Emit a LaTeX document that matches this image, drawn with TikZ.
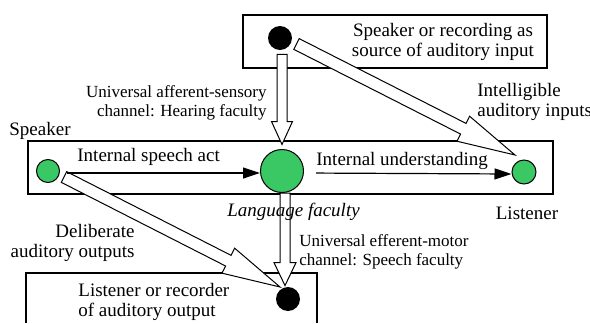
\documentclass[tikz,border=0pt]{standalone}
\usepackage{fontspec}
\setmainfont{Liberation Serif}[Ligatures=TeX]
\usetikzlibrary{arrows.meta,calc}
\definecolor{facgreen}{RGB}{58,200,100}
\tikzset{
  >={Triangle[length=8.5pt,width=5.5pt]},
  frame/.style={draw, line width=0.65pt},
  lbl/.style={inner sep=0pt, font=\rmfamily\fontsize{9.5}{10}\selectfont},
  small/.style={inner sep=0pt, font=\rmfamily\fontsize{8.5}{9.5}\selectfont},
  spot/.style={circle, draw, line width=0.5pt, fill=facgreen, inner sep=0pt, minimum size=#1},
  sink/.style={circle, fill=black, inner sep=0pt, minimum size=12pt},
  fat/.style={draw, line width=0.5pt, fill=white, line join=miter},
}
% hollow arrow: start, tip, head length, head half width, shaft half width
\newcommand\fatarrow[5]{%
  \coordinate (fa-base) at ($(#2)!#3!(#1)$);
  \draw[fat] ($(#1)!#5!90:(#2)$) -- ($(fa-base)!#5!90:(#2)$) -- ($(fa-base)!#4!90:(#2)$)
    -- (#2) -- ($(fa-base)!#4!-90:(#2)$) -- ($(fa-base)!#5!-90:(#2)$) -- ($(#1)!#5!-90:(#2)$) -- cycle;
}
\begin{document}
\begin{tikzpicture}[x=0.5pt, y=0.5pt]
  \useasboundingbox (0,0) rectangle (590,323);
  % boxes
  \draw[frame] (243,255) rectangle (547,308);
  \draw[frame] (28,129) rectangle (553,182);
  \draw[frame] (26,0) |- (317,50) -- (317,0);
  % sources, faculty, sinks
  \node[sink] (src) at (280,285) {};
  \node[spot=11.5pt] (spk) at (48,152) {};
  \node[spot=21.5pt] (lang) at (282,152) {};
  \node[spot=12pt] (lis) at (524,151) {};
  \node[sink] (rec) at (288,24) {};
  % channels
  \coordinate (a1s) at ([shift={(1pt,-2pt)}]src.south);
  \coordinate (a1e) at ([yshift=2.25pt]lang.north);
  \coordinate (a2s) at ([shift={(8.25pt,-3pt)}]src.center);
  \coordinate (a2e) at ([shift={(-4.5pt,8.5pt)}]lis.center);
  \coordinate (a3s) at ([shift={(8pt,-3pt)}]spk.center);
  \coordinate (a3e) at ([shift={(-4pt,6pt)}]rec.center);
  \coordinate (a4s) at ([xshift=1.5pt]lang.south);
  \coordinate (a4e) at ([shift={(-1.5pt,0.5pt)}]rec.north);
  \fatarrow{a1s}{a1e}{11.5pt}{5.25pt}{2.5pt}
  \fatarrow{a2s}{a2e}{29pt}{7pt}{3pt}
  \fatarrow{a3s}{a3e}{29pt}{7pt}{3pt}
  \fatarrow{a4s}{a4e}{11.5pt}{5.5pt}{2.5pt}
  \draw[->, line width=0.6pt, shorten <=3.5pt] ([yshift=-1pt]spk.east) -- ([yshift=-1pt]lang.west);
  \draw[->, line width=0.6pt, shorten <=6pt] ([yshift=-1pt]lang.east) -- ([yshift=-1pt]lis.west);
  % labels
  \node[lbl, align=center] (srctxt) at (443,281) {Speaker or recording as\\source of auditory input};
  \node[small, align=right, anchor=east] (hear) at (267,220.5) {Universal afferent-sensory\\channel: Hearing faculty};
  \node[lbl, align=left, anchor=west] (intel) at (477,221) {Intelligible\\auditory inputs};
  \node[lbl, anchor=base] (spkr) at (40,188) {Speaker};
  \node[lbl, anchor=base west] (act) at (77,161.5) {Internal speech act};
  \node[lbl, anchor=base west] (und) at (316,158) {Internal understanding};
  \node[lbl, anchor=base, font=\rmfamily\fontsize{9.5}{10}\selectfont\itshape] (facl) at (293.5,107) {Language faculty};
  \node[lbl, anchor=base] (lisr) at (527,104) {Listener};
  \node[lbl, align=right, anchor=east] (delib) at (135,80.5) {Deliberate\\auditory outputs};
  \node[small, align=left, anchor=west] (speech) at (299,71) {Universal efferent-motor\\channel: Speech faculty};
  \node[lbl, align=left, anchor=west] (rectxt) at (78,21.5) {Listener or recorder\\of auditory output};
\end{tikzpicture}
\end{document}
